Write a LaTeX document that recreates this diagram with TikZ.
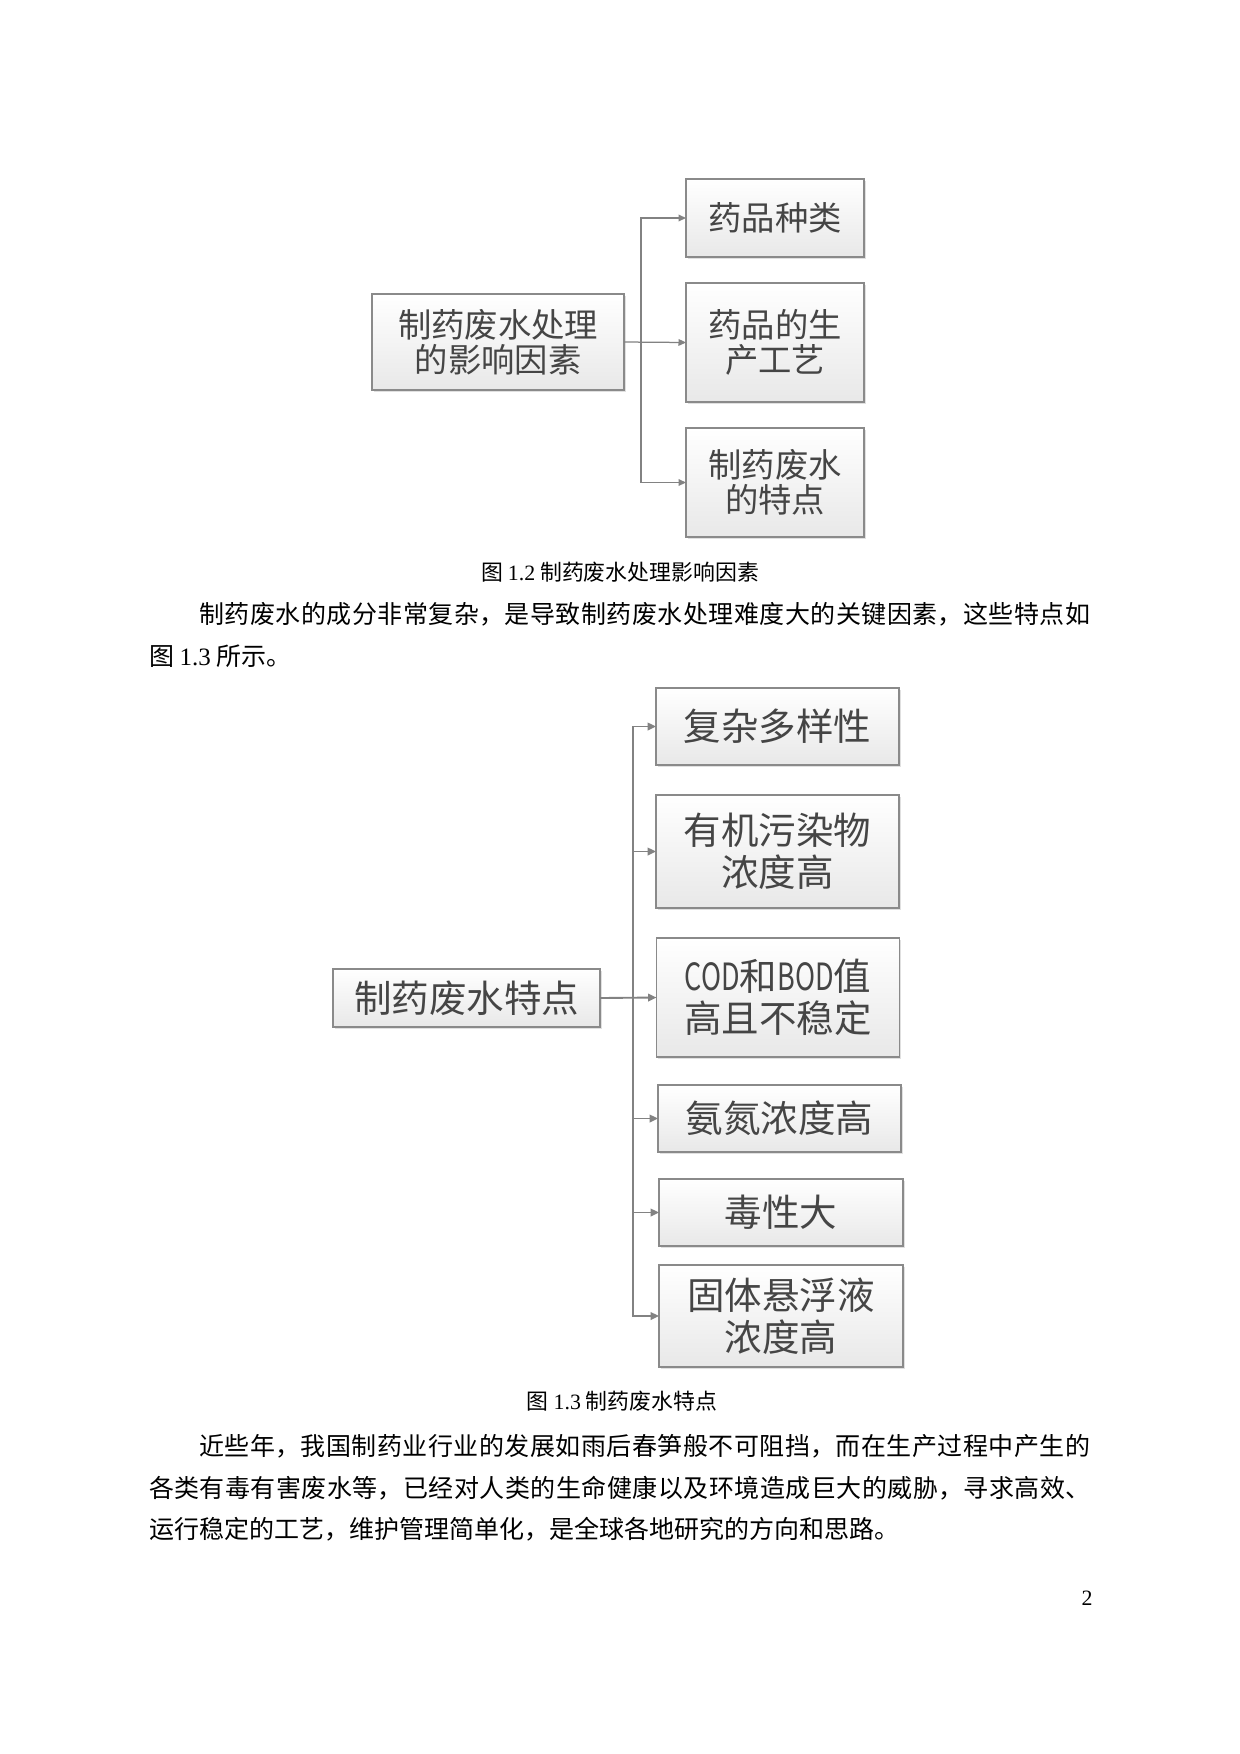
\documentclass[tikz,border=0pt]{standalone}
\usepackage{fontspec}
\usepackage{graphicx}
\setmainfont{Liberation Serif}
\newfontfamily\cjk{Noto Sans CJK SC}
\usetikzlibrary{arrows.meta,shadows}
\XeTeXlinebreaklocale "zh"
\XeTeXlinebreakskip=0pt plus 2pt
\definecolor{boxline}{HTML}{8A8A8A}
\definecolor{boxbot}{HTML}{E8E8E8}
\definecolor{boxtext}{HTML}{454545}
\definecolor{conline}{HTML}{828282}
\newcommand{\justline}[2]{\parbox{#1}{\parindent=0pt\parfillskip=0pt #2}}
\tikzset{
  fbox/.style={draw=boxline, line width=0.6pt, top color=white, bottom color=boxbot,
    inner sep=0pt, outer sep=0pt, align=center, text=boxtext,
    drop shadow={shadow xshift=0.9pt, shadow yshift=-0.9pt, fill=black, opacity=0.12}},
  figa/.style={fbox, font=\cjk\fontsize{16}{17}\selectfont},
  figb/.style={fbox, font=\cjk\fontsize{18}{20}\selectfont},
  wh/.style 2 args={minimum width=#1*0.48pt, minimum height=#2*0.48pt},
  conna/.style={draw=conline, line width=0.6pt, -{Triangle[length=3.6pt,width=3.2pt]}},
  connb/.style={draw=conline, line width=0.9pt, -{Triangle[length=4pt,width=3.6pt]}},
  bodyline/.style={inner sep=0pt, outer sep=0pt, anchor=west, font=\cjk\fontsize{12}{12}\selectfont},
  figcap/.style={inner sep=0pt, font=\cjk\fontsize{10.5}{12}\selectfont},
}
\begin{document}
\begin{tikzpicture}[x=0.48pt, y=-0.48pt]
\useasboundingbox[fill=white] (0,0) rectangle (1240,1754);

% ---------- Figure 1.2 ----------
\node[figa, wh={252}{96}] (L1) at (498,342) {制药废水处理\\的影响因素};
\node[figa, wh={178}{78}] (A1) at (775,218) {药品种类};
\node[figa, wh={178}{119}] (A2) at (775,342.5) {药品的生\\产工艺};
\node[figa, wh={178}{109}] (A3) at (775,482.5) {制药废水\\的特点};
\coordinate (j1) at (641,342);
\draw[conna] (L1.east) -- (A2.west);
\draw[conna] (j1) |- (A1.west);
\draw[conna] (j1) |- (A3.west);

\node[figcap] (c1) at (620,572) {图 {\rmfamily 1.2} 制药废水处理影响因素};

% ---------- body paragraph 1 ----------
\node[bodyline] (p1a) at (199,614) {\justline{427.7pt}{制药废水的成分非常复杂，是导致制药废水处理难度大的关键因素，这些特点如}};
\node[bodyline] (p1b) at (149,656) {图 {\rmfamily 1.3} 所示。};

% ---------- Figure 1.3 ----------
\node[figb, wh={267}{58}] (L2) at (466.5,998) {制药废水特点};
\node[figb, wh={243}{77}] (B1) at (777.5,726.5) {复杂多样性};
\node[figb, wh={243}{113}] (B2) at (777.5,851.5) {有机污染物\\浓度高};
\node[figb, wh={243}{119}] (B3) at (778,997.5) {\scalebox{0.72}[1]{COD}和\scalebox{0.72}[1]{BOD}值\\高且不稳定};
\node[figb, wh={243}{67}] (B4) at (779.5,1118.5) {氨氮浓度高};
\node[figb, wh={244}{67}] (B5) at (781,1212.5) {毒性大};
\node[figb, wh={244}{102}] (B6) at (781,1316) {固体悬浮液\\浓度高};
\coordinate (j2) at (633,998);
\draw[connb] (L2.east) -- (B3.west);
\draw[connb] (j2) |- (B1.west);
\draw[connb] (j2) |- (B2.west);
\draw[connb] (j2) |- (B4.west);
\draw[connb] (j2) |- (B5.west);
\draw[connb] (j2) |- (B6.west);

\node[figcap] (c2) at (622,1401) {图 {\rmfamily 1.3} 制药废水特点};

% ---------- body paragraph 2 ----------
\node[bodyline] (p2a) at (199,1446) {\justline{427.7pt}{近些年，我国制药业行业的发展如雨后春笋般不可阻挡，而在生产过程中产生的}};
\node[bodyline] (p2b) at (149,1488) {\justline{451.7pt}{各类有毒有害废水等，已经对人类的生命健康以及环境造成巨大的威胁，寻求高效、}};
\node[bodyline] (p2c) at (149,1529) {运行稳定的工艺，维护管理简单化，是全球各地研究的方向和思路。};

\node[inner sep=0pt, font=\fontsize{10.5}{12}\selectfont] (pg) at (1087,1598) {2};
\end{tikzpicture}
\end{document}
